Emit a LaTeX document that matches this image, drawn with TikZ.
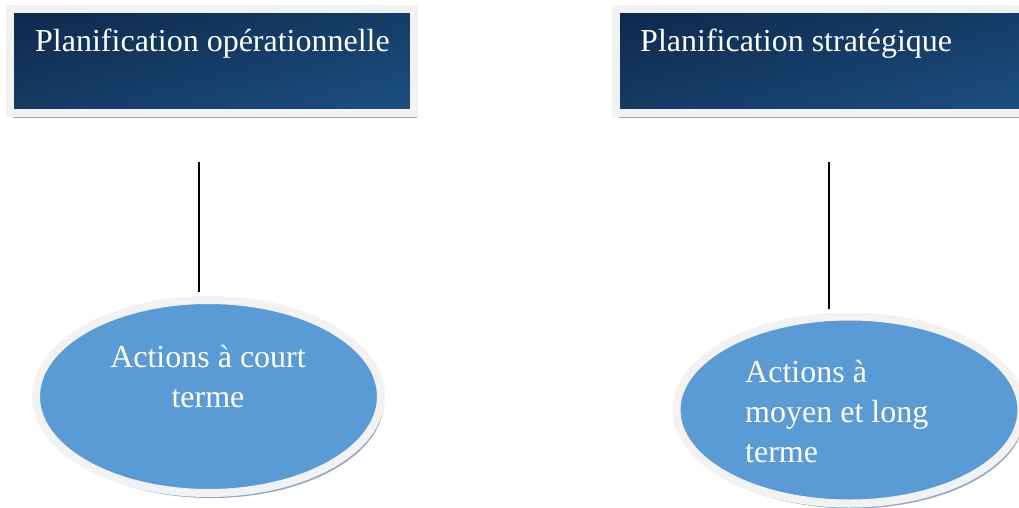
\documentclass[tikz,border=0pt]{standalone}
\usepackage{fontspec}
\setmainfont{Liberation Serif}
\usetikzlibrary{shapes.geometric,shadows}

\definecolor{boxtop}{RGB}{15,44,80}
\definecolor{boxbot}{RGB}{27,76,124}
\definecolor{ringgray}{RGB}{242,242,242}
\definecolor{shadowblue}{RGB}{145,168,198}
\definecolor{ovalblue}{RGB}{91,155,213}

\tikzset{
  titlebox/.style={rectangle, draw=ringgray, line width=8pt,
    top color=boxtop, bottom color=boxbot, shading angle=15,
    general shadow={shadow xshift=3pt, shadow yshift=-5pt, fill=shadowblue},
    inner sep=0pt},
  oval/.style={ellipse, draw=ringgray, line width=8pt, fill=ovalblue,
    general shadow={shadow xshift=3pt, shadow yshift=-5pt, fill=shadowblue},
    inner sep=0pt, minimum width=345pt},
  whitetext/.style={text=white, inner sep=0pt,
    font=\fontsize{32}{40}\selectfont},
  link/.style={draw=black, line width=2pt, shorten >=4pt}
}

\begin{document}
\begin{tikzpicture}[x=1pt, y=-1pt]
  \useasboundingbox (0,0) rectangle (1019,508);

  % heading boxes
  \node[titlebox, minimum width=403.5pt, minimum height=104pt] (opbox) at (211.75,61) {};
  \node[titlebox, minimum width=420pt, minimum height=104pt] (stbox) at (826,61) {};
  \node[whitetext, anchor=base west] (optext) at (35,52) {Planification opérationnelle};
  \node[whitetext, anchor=base west] (sttext) at (640,52) {Planification stratégique};

  % ovals
  \node[oval, minimum height=193pt] (shortterm) at (208.5,396.5) {};
  \node[oval, minimum height=187pt] (longterm) at (849,410) {};
  \node[whitetext, align=center, anchor=base] (shorttext) at (208,407)
    {Actions à court\\terme};
  \node[whitetext, align=left, anchor=base west] (longtext) at (745,462)
    {Actions à\\moyen et long\\terme};

  % connectors
  \coordinate (optop) at (199,162);
  \coordinate (sttop) at (829,162);
  \draw[link] (optop) -- (optop |- shortterm.north);
  \draw[link] (sttop) -- (sttop |- longterm.north);
\end{tikzpicture}
\end{document}
